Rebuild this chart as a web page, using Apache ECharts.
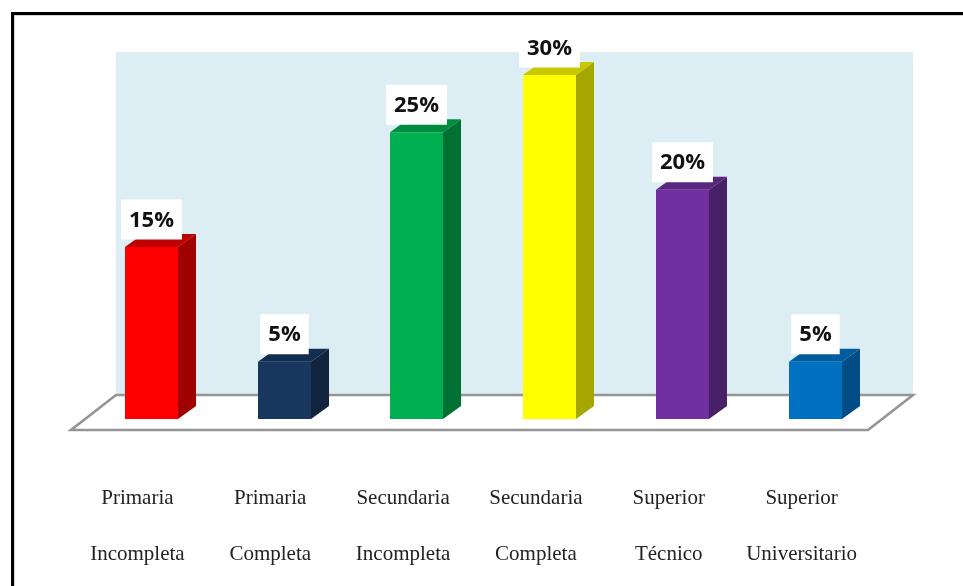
<!DOCTYPE html>
<html>
<head>
<meta charset="utf-8">
<style>html,body{margin:0;padding:0;background:#fff}#c{width:963px;height:586px}</style>
<script src="https://cdn.jsdelivr.net/npm/echarts@6/dist/echarts.min.js"></script>
</head>
<body>
<div id="c"></div>
<script>
const categories = ['Primaria\nIncompleta','Primaria\nCompleta','Secundaria\nIncompleta','Secundaria\nCompleta','Superior\nTécnico','Superior\nUniversitario'];
const values = [15, 5, 25, 30, 20, 5];
const frontColors = ['#FF0000','#17375E','#00B050','#FFFF00','#7030A0','#0070C0'];
const sideColors  = ['#A00000','#10243E','#007033','#A6A600','#482068','#004C84'];
const topColors   = ['#C00000','#132D50','#008C40','#C8C800','#592680','#005C9E'];

const chart = echarts.init(document.getElementById('c'), null, {renderer:'canvas'});

// Oblique projection: floor depth vector, bar offset on the floor, and bar depth
const DEPTH = [45, -35], BAR_OFF = [14, -11], BAR_DEPTH = [18, -13], BAR_RATIO = 0.4;

function renderStage(params, api) {
  const cs = params.coordSys;
  const x0 = cs.x, x1 = cs.x + cs.width, yb = cs.y + cs.height, yt = cs.y;
  const dx = DEPTH[0], dy = DEPTH[1];
  return {type:'group', children:[
    {type:'rect', shape:{x:x0+dx, y:yt+dy+1, width:cs.width, height:cs.height-1},
     style:{fill:'#DCEEF4'}},
    {type:'polygon', shape:{points:[[x0+dx,yb+dy],[x1+dx,yb+dy],[x1,yb],[x0,yb]]},
     style:{fill:'#FFFFFF', stroke:'#959595', lineWidth:2.6}}
  ]};
}

function renderBar(params, api) {
  const i = api.value(0), v = api.value(1);
  const base = api.coord([i, 0]), top = api.coord([i, v]);
  const w = api.size([1, 0])[0] * BAR_RATIO;
  const xl = Math.round(base[0] + BAR_OFF[0] - w / 2 - 0.1), xr = xl + Math.round(w);
  const yb = base[1] + BAR_OFF[1], yt = top[1] + BAR_OFF[1];
  const ddx = BAR_DEPTH[0], ddy = BAR_DEPTH[1];
  return {type:'group', children:[
    {type:'polygon', shape:{points:[[xr,yt],[xr+ddx,yt+ddy],[xr+ddx,yb+ddy],[xr,yb]]},
     style:{fill:sideColors[i]}},
    {type:'polygon', shape:{points:[[xl,yt],[xl+ddx,yt+ddy],[xr+ddx,yt+ddy],[xr,yt]]},
     style:{fill:topColors[i]}},
    {type:'rect', shape:{x:xl, y:yt, width:xr-xl, height:yb-yt},
     style:{fill:frontColors[i]}},
    {type:'text', style:{
       x:(xl+xr)/2, y:yt-7.5, text:v+'%', align:'center', verticalAlign:'bottom',
       fontFamily:'"Open Sans"', fontWeight:700, fontSize:22, fill:'#111',
       backgroundColor:'#FFFFFF', padding:[10,8,8,8]}}
  ]};
}

chart.setOption({
  animation:false,
  backgroundColor:'#fff',
  grid:{left:71, top:86, width:797, height:344},
  xAxis:{type:'category', data:categories,
    axisLine:{show:false}, axisTick:{show:false},
    axisLabel:{interval:0, margin:40, lineHeight:56, fontFamily:'"Liberation Serif"', fontSize:21, color:'#222'}},
  yAxis:{type:'value', min:0, max:30, interval:5, show:false},
  graphic:[
    {type:'polyline', z:10, shape:{points:[[13,600],[13,14],[980,14]]}, style:{fill:null, stroke:'#aaaaaa', lineWidth:3}},
    {type:'polyline', z:11, shape:{points:[[12.5,600],[12.5,13.5],[980,13.5]]}, style:{fill:null, stroke:'#000', lineWidth:3}}
  ],
  series:[
    {type:'custom', silent:true, z:1, renderItem:renderStage, data:[[0]], encode:{x:0}, clip:false},
    {type:'custom', silent:true, z:2, renderItem:renderBar, clip:false,
     data:values.map((v,i)=>[i,v]), encode:{x:0,y:1}}
  ]
});
</script>
</body>
</html>
